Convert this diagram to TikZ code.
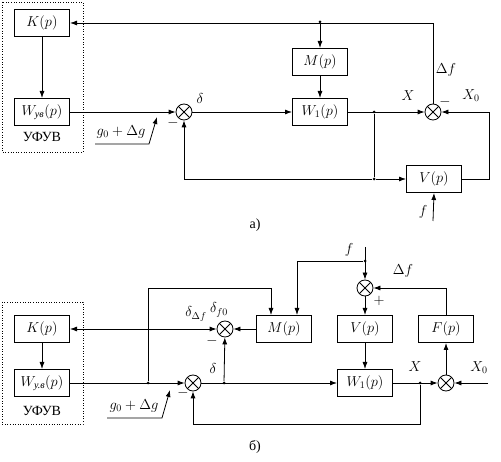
\documentclass[tikz,border=0pt]{standalone}
\usepackage{fontspec}
\setmainfont{Liberation Serif}
\usepackage{tikz}
\usetikzlibrary{arrows.meta}

\tikzset{
  blk/.style={draw,line width=1pt,minimum width=55pt,minimum height=27pt,inner sep=0pt},
  summ/.style={circle,draw,line width=0.8pt,minimum size=16pt,inner sep=0pt,
    path picture={\draw[line width=0.8pt] (path picture bounding box.north west) -- (path picture bounding box.south east)
      (path picture bounding box.north east) -- (path picture bounding box.south west);}},
  lbl/.style={inner sep=0pt},
  dot/.style={circle,fill,inner sep=0pt,minimum size=3pt}
}

\begin{document}
\begin{tikzpicture}[x=1pt,y=-1pt,line width=0.8pt,>={Latex[length=7pt,width=5pt]},
  every node/.style={font=\fontsize{14}{16}\selectfont}]
\useasboundingbox (0,0) rectangle (501,462);
\draw[dotted,line width=0.6pt] (2,2) rectangle (83,152);
\node[blk] (Ka) at (42,23) {$K(p)$};
\node[blk] (Wya) at (42,112) {$W_{\mbox{\fontsize{10}{12}\selectfont\itshape ув}}(p)$};
\node[lbl] (ufa) at (42,137) {УФУВ};
\node[summ] (Sa1) at (184,112) {};
\node[blk] (Ma) at (320,62) {$M(p)$};
\node[blk] (Wa) at (320,112) {$W_1(p)$};
\node[summ] (Sa2) at (433,112) {};
\node[blk] (Va) at (434,179) {$V(p)$};
\node[dot] (ta) at (320,22) {};
\node[dot] (na) at (374,112) {};
\node[dot] (nb) at (374,179) {};
\coordinate (ra) at (489,179);
\coordinate (fa) at (433,221);
\coordinate (ga) at (95,144);
\coordinate (gb) at (149,144);
\coordinate (gc) at (157,117);
\draw[->] (Ka) -- (Wya);
\draw[->] (Wya) -- (Sa1);
\draw[->] (Sa1) -- (Wa);
\draw[->] (Sa2.north) |- (Ka.east);
\draw[->] (ta) -- (Ma);
\draw[->] (Ma) -- (Wa);
\draw[->] (Wa) -- (Sa2);
\draw (na) -- (nb);
\draw[->] (nb) -- (Va);
\draw[->] (nb) -| (Sa1.south);
\draw[->] (Va.east) -- (ra) |- (Sa2.east);
\draw[->] (fa) -- (Va.south);
\draw[->] (ga) -- (gb) -- (gc);
\node[lbl] at (121,132) {$g_0+\Delta g$};
\node[lbl] at (200,99) {$\delta$};
\node[lbl] at (173,123) {$-$};
\node[lbl] at (408,96) {$X$};
\node[lbl] at (471,96) {$X_0$};
\node[lbl] at (446,70) {$\Delta f$};
\node[lbl] at (445,102) {$-$};
\node[lbl] at (423,212) {$f$};
\node[lbl] at (255,225) {а)};
\draw[dotted,line width=0.6pt] (2,302) rectangle (83,424);
\node[blk] (Kb) at (42,329) {$K(p)$};
\node[blk] (Wyb) at (42,383) {$W_{\mbox{\fontsize{10}{12}\selectfont\itshape у.в}}(p)$};
\node[lbl] (ufb) at (42,411) {УФУВ};
\node[summ] (SbA) at (193,383) {};
\node[summ] (SbB) at (225,329) {};
\node[blk] (Mb) at (284,329) {$M(p)$};
\node[blk] (Vb) at (365,329) {$V(p)$};
\node[blk] (Wb) at (365,383) {$W_1(p)$};
\node[summ] (SbC) at (446,383) {};
\node[blk] (Fb) at (446,329) {$F(p)$};
\node[summ] (SbD) at (365,288) {};
\node[dot] (nc) at (148,383) {};
\node[dot] (nd) at (224,383) {};
\node[dot] (ne) at (420,383) {};
\node[dot] (nf) at (365,261) {};
\coordinate (ma) at (271,288);
\coordinate (be) at (420,424);
\coordinate (xb) at (488,383);
\coordinate (fb) at (365,247);
\coordinate (gd) at (107,418);
\coordinate (ge) at (162,418);
\coordinate (gf) at (170,390);
\draw[->] (Kb) -- (Wyb);
\draw[->] (Wyb) -- (SbA);
\draw[->] (nc) |- (ma) -- (ma |- Mb.north);
\draw[<->] (Kb) -- (SbB);
\draw[->] (Mb) -- (SbB);
\draw[->] (SbA) -- (Wb);
\draw[->] (nd) -- (SbB);
\draw[->] (Wb) -- (SbC);
\draw[->] (ne) -- (be) -| (SbA.south);
\draw[->] (xb) -- (SbC);
\draw[->] (SbC) -- (Fb);
\draw[->] (Fb.north) |- (SbD.east);
\draw[->] (fb) -- (SbD);
\draw[->] (nf) -| ([xshift=13pt]Mb.north);
\draw[->] (SbD) -- (Vb);
\draw[->] (Vb) -- (Wb);
\draw[->] (gd) -- (ge) -- (gf);
\node[lbl] at (134,406) {$g_0+\Delta g$};
\node[lbl] at (196,314) {$\delta_{\Delta f}$};
\node[lbl] at (219,310) {$\delta_{f0}$};
\node[lbl] at (212,341) {$-$};
\node[lbl] at (213,369) {$\delta$};
\node[lbl] at (183,393) {$-$};
\node[lbl] at (415,367) {$X$};
\node[lbl] at (479,368) {$X_0$};
\node[lbl] at (403,271) {$\Delta f$};
\node[lbl] at (379,301) {$+$};
\node[lbl] at (349,250) {$f$};
\node[lbl] at (255,447) {б)};
\end{tikzpicture}
\end{document}
